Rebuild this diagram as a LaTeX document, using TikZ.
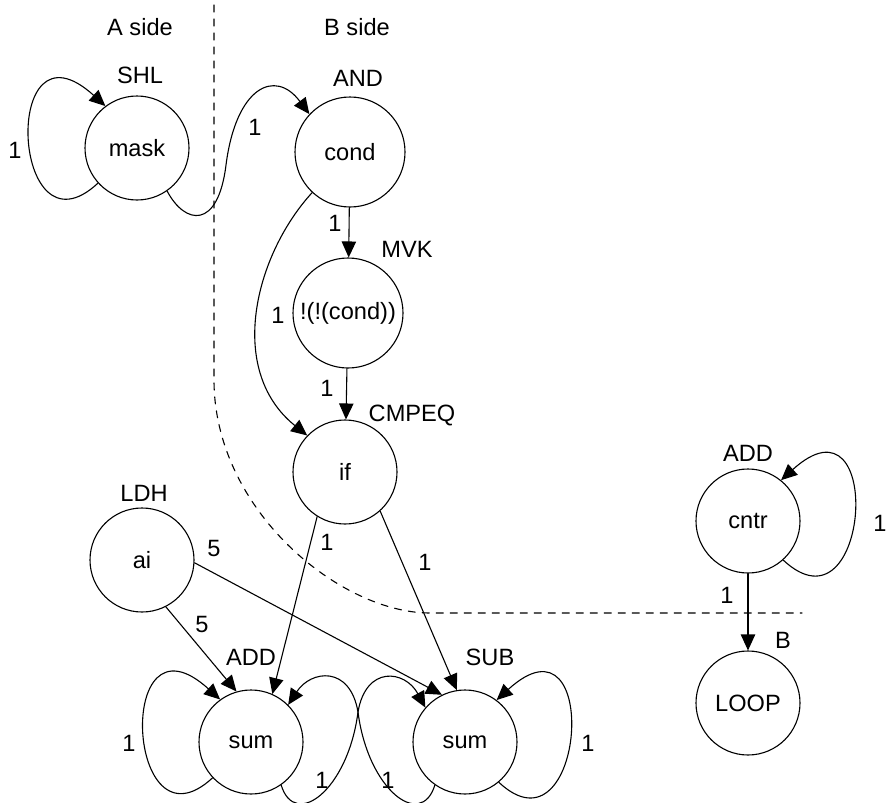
\documentclass[tikz,border=0pt]{standalone}
\usepackage{fontspec}
\setmainfont{Liberation Sans}
\usetikzlibrary{arrows.meta}
\begin{document}
\begin{tikzpicture}[x=.5pt,y=-.5pt,>={Triangle[length=8pt,width=7.2pt]},line join=round,line cap=round,
	font=\fontsize{11.8}{14}\selectfont,
	op/.style={circle,draw,line width=.55pt,minimum size=52pt,inner sep=0pt},
	big/.style={minimum size=55pt},
	lbl/.style={inner sep=0pt},
	edge/.style={->,line width=.55pt}]
	\useasboundingbox (0,0) rectangle (889,803);
	% operations
	\path
	(137,148) node[op] (mask) {mask}
	(350,152) node[op,big] (cond) {cond}
	(348,313) node[op,big] (notnot) {!(!(cond))}
	(345,472) node[op] (if) {if}
	(142,560) node[op] (ai) {ai}
	(251,742) node[op] (sumA) {sum}
	(465,742) node[op] (sumB) {sum}
	(748,521) node[op] (cntr) {cntr}
	(748,703) node[op] (loop) {LOOP}
	;
	% units and sides
	\path
	(140,27) node[lbl] (sideA) {A side}
	(357,27) node[lbl] (sideB) {B side}
	(140,75) node[lbl] (uSHL) {SHL}
	(358,78) node[lbl] (uAND) {AND}
	(407,249) node[lbl] (uMVK) {MVK}
	(412,415) node[lbl] (uCMPEQ) {CMPEQ}
	(144,493) node[lbl] (uLDH) {LDH}
	(251,657) node[lbl] (uADD) {ADD}
	(490,657) node[lbl] (uSUB) {SUB}
	(748,453) node[lbl] (uADDc) {ADD}
	(783,640) node[lbl] (uB) {B}
	;
	% latencies
	\path
	(15,150) node[lbl] (wMask) {1}
	(255,127) node[lbl] (wMaskCond) {1}
	(335,223) node[lbl] (wCondNot) {1}
	(278,315) node[lbl] (wCondIf) {1}
	(327,388) node[lbl] (wNotIf) {1}
	(327,542) node[lbl] (wIfA) {1}
	(425,562) node[lbl] (wIfB) {1}
	(214,548) node[lbl] (wAiB) {5}
	(202,624) node[lbl] (wAiA) {5}
	(129,743) node[lbl] (wSumA) {1}
	(322,780) node[lbl] (wAB) {1}
	(388,780) node[lbl] (wBA) {1}
	(588,743) node[lbl] (wSumB) {1}
	(880,523) node[lbl] (wCntr) {1}
	(727,595) node[lbl] (wLoop) {1}
	;
	\draw[line width=.55pt,dash pattern=on 3.5pt off 3.5pt]
	(214,5)--(214,380) .. controls (214,510) and (340,613) .. (430,613)--(802,613)
	;
	\draw[edge] (mask.222) .. controls (11,264) and (0,10) .. (mask.127);
	\draw[edge] (mask.-55) .. controls (185,225) and (218,230) .. (226,165) .. controls (236,87) and (275,68) .. (cond.137);
	\draw[edge] (cond)--(notnot);
	\draw[edge] (notnot)--(if);
	\draw[edge] (cond.227) .. controls (255,255) and (226,370) .. (if.136);
	\draw[edge] (if.238)--(sumA.66);
	\draw[edge] (if.-48)--(sumB.99);
	\draw[edge] (ai.-63)--(sumA.106);
	\draw[edge] (ai.-3)--(sumB.116);
	\draw[edge] (sumA.223) .. controls (126,858) and (114,603) .. (sumA.126);
	\draw[edge] (sumB.-50) .. controls (585,863) and (603,603) .. (sumB.53);
	\draw[edge] (sumA.-55) .. controls (295,830) and (348,790) .. (358,712) .. controls (366,665) and (405,670) .. (sumB.139);
	\draw[edge] (sumB.235) .. controls (421,830) and (368,790) .. (358,712) .. controls (350,665) and (311,670) .. (sumA.45);
	\draw[edge] (cntr.-48) .. controls (870,641) and (886,385) .. (cntr.51);
	\draw[edge] (cntr)--(loop);
\end{tikzpicture}
\end{document}
